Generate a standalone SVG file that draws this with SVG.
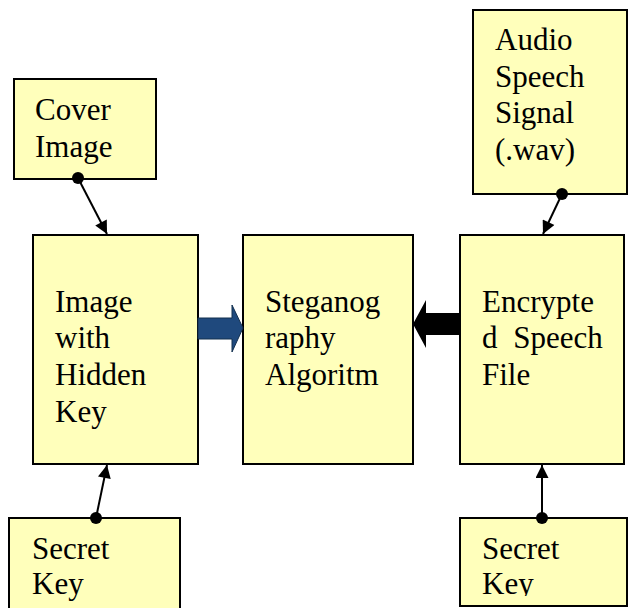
<svg xmlns="http://www.w3.org/2000/svg" width="639" height="608" viewBox="0 0 639 608">
<defs>
<marker id="ah" viewBox="0 0 10 10" refX="10" refY="5" markerWidth="16" markerHeight="13" markerUnits="userSpaceOnUse" orient="auto">
<path d="M0,0 L10,5 L0,10 z" fill="#000"/>
</marker>
<clipPath id="clipR"><rect x="460" y="518" width="170" height="78"/></clipPath>
</defs>
<rect width="639" height="608" fill="#fff"/>
<g id="cover" font-family="Liberation Serif" font-size="31">
<rect fill="#FFFFBB" stroke="#000" stroke-width="2" x="14" y="79" width="142" height="100"/>
<text x="35" y="120">Cover</text>
<text x="35" y="157">Image</text>
</g>
<g id="audio" font-family="Liberation Serif" font-size="31">
<rect fill="#FFFFBB" stroke="#000" stroke-width="2" x="473" y="10" width="154" height="184"/>
<text x="495" y="50">Audio</text>
<text x="495" y="87">Speech</text>
<text x="495" y="123">Signal</text>
<text x="495" y="160">(.wav)</text>
</g>
<g id="image-key" font-family="Liberation Serif" font-size="31">
<rect fill="#FFFFBB" stroke="#000" stroke-width="2" x="33" y="235" width="165" height="229"/>
<text x="55" y="312">Image</text>
<text x="55" y="348">with</text>
<text x="55" y="385">Hidden</text>
<text x="55" y="422">Key</text>
</g>
<g id="stego" font-family="Liberation Serif" font-size="31">
<rect fill="#FFFFBB" stroke="#000" stroke-width="2" x="243" y="235" width="170" height="229"/>
<text x="265" y="312">Steganog</text>
<text x="265" y="348">raphy</text>
<text x="265" y="385">Algoritm</text>
</g>
<g id="encrypted" font-family="Liberation Serif" font-size="31">
<rect fill="#FFFFBB" stroke="#000" stroke-width="2" x="460" y="235" width="164" height="229"/>
<text x="482" y="312">Encrypte</text>
<text x="482" y="348">d<tspan dx="8"> Speech</tspan></text>
<text x="482" y="385">File</text>
</g>
<g id="secret-left" font-family="Liberation Serif" font-size="31">
<rect fill="#FFFFBB" stroke="#000" stroke-width="2" x="9" y="518" width="171" height="100"/>
<text x="32" y="559">Secret</text>
<text x="32" y="594">Key</text>
</g>
<g id="secret-right" font-family="Liberation Serif" font-size="31">
<rect fill="#FFFFBB" stroke="#000" stroke-width="2" x="460" y="518" width="167" height="88"/>
<text x="482" y="559">Secret</text>
<text x="482" y="594" clip-path="url(#clipR)">Key</text>
</g>
<g id="connectors" stroke="#000" stroke-width="2">
<line x1="78" y1="178" x2="107" y2="234" marker-end="url(#ah)"/>
<circle cx="78" cy="178" r="6" fill="#000" stroke="none"/>
<line x1="562" y1="194" x2="543" y2="234" marker-end="url(#ah)"/>
<circle cx="562" cy="194" r="6" fill="#000" stroke="none"/>
<line x1="96" y1="518" x2="107" y2="465" marker-end="url(#ah)"/>
<circle cx="96" cy="518" r="6" fill="#000" stroke="none"/>
<line x1="542" y1="518" x2="542" y2="465" marker-end="url(#ah)"/>
<circle cx="542" cy="518" r="6" fill="#000" stroke="none"/>
<path d="M198,318 L232,318 L232,305 L243,328 L232,352 L232,339 L198,339 z" fill="#1F497D" stroke="#13304F" stroke-width="1"/>
<path d="M460,313 L426,313 L426,300 L413,324 L426,348 L426,335 L460,335 z" fill="#000" stroke="none"/>
</g>
</svg>
